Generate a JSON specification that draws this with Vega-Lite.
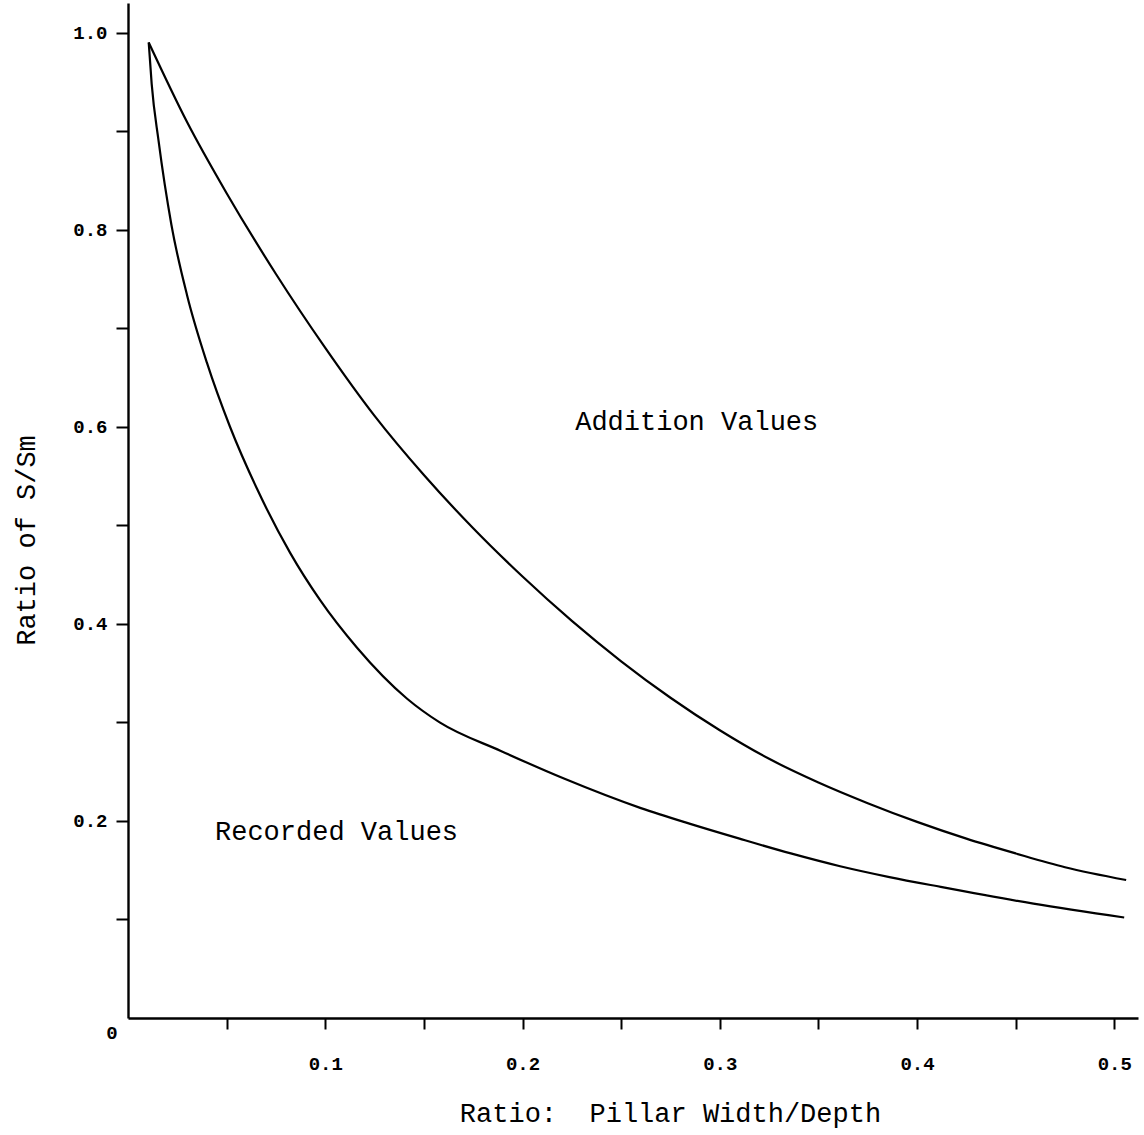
{
  "$schema": "https://vega.github.io/schema/vega-lite/v6.json",
  "width": 1010,
  "height": 1015,
  "autosize": {"type": "none"},
  "padding": {"left": 128, "top": 3, "right": 6, "bottom": 117},
  "background": "white",
  "config": {
    "view": {"stroke": null},
    "font": "Liberation Mono",
    "axis": {
      "domainColor": "black",
      "domainWidth": 2.4,
      "tickColor": "black",
      "tickWidth": 2,
      "labelColor": "black",
      "labelFont": "Liberation Mono",
      "labelFontSize": 19,
      "labelFontWeight": "bold",
      "titleColor": "black",
      "titleFont": "Liberation Mono",
      "titleFontSize": 27,
      "titleFontWeight": "normal",
      "grid": false
    }
  },
  "datasets": {
    "curves": [
      {"series": "Addition Values", "ratio": 0.0105, "s": 0.99},
      {"series": "Addition Values", "ratio": 0.03, "s": 0.909},
      {"series": "Addition Values", "ratio": 0.05, "s": 0.837},
      {"series": "Addition Values", "ratio": 0.075, "s": 0.755},
      {"series": "Addition Values", "ratio": 0.1, "s": 0.68},
      {"series": "Addition Values", "ratio": 0.125, "s": 0.611},
      {"series": "Addition Values", "ratio": 0.15, "s": 0.551},
      {"series": "Addition Values", "ratio": 0.175, "s": 0.497},
      {"series": "Addition Values", "ratio": 0.2, "s": 0.448},
      {"series": "Addition Values", "ratio": 0.225, "s": 0.403},
      {"series": "Addition Values", "ratio": 0.25, "s": 0.362},
      {"series": "Addition Values", "ratio": 0.275, "s": 0.325},
      {"series": "Addition Values", "ratio": 0.3, "s": 0.292},
      {"series": "Addition Values", "ratio": 0.325, "s": 0.263},
      {"series": "Addition Values", "ratio": 0.35, "s": 0.239},
      {"series": "Addition Values", "ratio": 0.375, "s": 0.218},
      {"series": "Addition Values", "ratio": 0.4, "s": 0.199},
      {"series": "Addition Values", "ratio": 0.425, "s": 0.182},
      {"series": "Addition Values", "ratio": 0.45, "s": 0.167},
      {"series": "Addition Values", "ratio": 0.475, "s": 0.153},
      {"series": "Addition Values", "ratio": 0.506, "s": 0.14},
      {"series": "Recorded Values", "ratio": 0.0105, "s": 0.99},
      {"series": "Recorded Values", "ratio": 0.012, "s": 0.948},
      {"series": "Recorded Values", "ratio": 0.0155, "s": 0.89},
      {"series": "Recorded Values", "ratio": 0.022, "s": 0.805},
      {"series": "Recorded Values", "ratio": 0.03, "s": 0.733},
      {"series": "Recorded Values", "ratio": 0.04, "s": 0.665},
      {"series": "Recorded Values", "ratio": 0.0517, "s": 0.6},
      {"series": "Recorded Values", "ratio": 0.0654, "s": 0.537},
      {"series": "Recorded Values", "ratio": 0.0822, "s": 0.472},
      {"series": "Recorded Values", "ratio": 0.0974, "s": 0.424},
      {"series": "Recorded Values", "ratio": 0.116, "s": 0.376},
      {"series": "Recorded Values", "ratio": 0.1415, "s": 0.324},
      {"series": "Recorded Values", "ratio": 0.158, "s": 0.3},
      {"series": "Recorded Values", "ratio": 0.189, "s": 0.271},
      {"series": "Recorded Values", "ratio": 0.221, "s": 0.243},
      {"series": "Recorded Values", "ratio": 0.26, "s": 0.213},
      {"series": "Recorded Values", "ratio": 0.285, "s": 0.197},
      {"series": "Recorded Values", "ratio": 0.31, "s": 0.182},
      {"series": "Recorded Values", "ratio": 0.336, "s": 0.167},
      {"series": "Recorded Values", "ratio": 0.361, "s": 0.154},
      {"series": "Recorded Values", "ratio": 0.386, "s": 0.143},
      {"series": "Recorded Values", "ratio": 0.412, "s": 0.133},
      {"series": "Recorded Values", "ratio": 0.459, "s": 0.116},
      {"series": "Recorded Values", "ratio": 0.505, "s": 0.102}
    ],
    "labels": [
      {"series": "Addition Values", "ratio": 0.2267, "s": 0.605},
      {"series": "Recorded Values", "ratio": 0.0441, "s": 0.189}
    ]
  },
  "layer": [
    {
      "data": {"name": "curves"},
      "mark": {"type": "line", "color": "black", "strokeWidth": 2.2, "interpolate": "monotone"},
      "encoding": {
        "x": {
          "field": "ratio",
          "type": "quantitative",
          "scale": {"domain": [0, 0.512], "nice": false},
          "axis": {
            "title": "Ratio:\u00a0 Pillar Width/Depth",
            "values": [0.05, 0.1, 0.15, 0.2, 0.25, 0.3, 0.35, 0.4, 0.45, 0.5],
            "labelExpr": "abs(datum.value * 10 - round(datum.value * 10)) < 0.001 ? format(datum.value, '.1f') : ''",
            "tickSize": 11,
            "labelPadding": 25,
            "titleX": 542,
            "titleY": 103,
            "titleAlign": "center",
            "titleBaseline": "alphabetic"
          }
        },
        "y": {
          "field": "s",
          "type": "quantitative",
          "scale": {"domain": [0, 1.03], "nice": false},
          "axis": {
            "title": "Ratio of S/Sm",
            "values": [0.1, 0.2, 0.3, 0.4, 0.5, 0.6, 0.7, 0.8, 0.9, 1.0],
            "labelExpr": "abs(datum.value * 5 - round(datum.value * 5)) < 0.001 ? format(datum.value, '.1f') : ''",
            "tickSize": 12,
            "labelPadding": 9,
            "titleX": -102,
            "titleY": 537,
            "titleAngle": -90,
            "titleAlign": "center",
            "titleBaseline": "middle"
          }
        },
        "detail": {"field": "series"}
      }
    },
    {
      "data": {"name": "labels"},
      "mark": {"type": "text", "align": "left", "baseline": "middle", "font": "Liberation Mono", "fontSize": 27, "color": "black"},
      "encoding": {
        "x": {"field": "ratio", "type": "quantitative"},
        "y": {"field": "s", "type": "quantitative"},
        "text": {"field": "series"}
      }
    },
    {
      "data": {"values": [{"origin": "0"}]},
      "mark": {"type": "text", "align": "center", "baseline": "middle", "dx": -16, "dy": 15, "font": "Liberation Mono", "fontSize": 19, "fontWeight": "bold", "color": "black"},
      "encoding": {
        "x": {"datum": 0},
        "y": {"datum": 0},
        "text": {"field": "origin"}
      }
    }
  ]
}
